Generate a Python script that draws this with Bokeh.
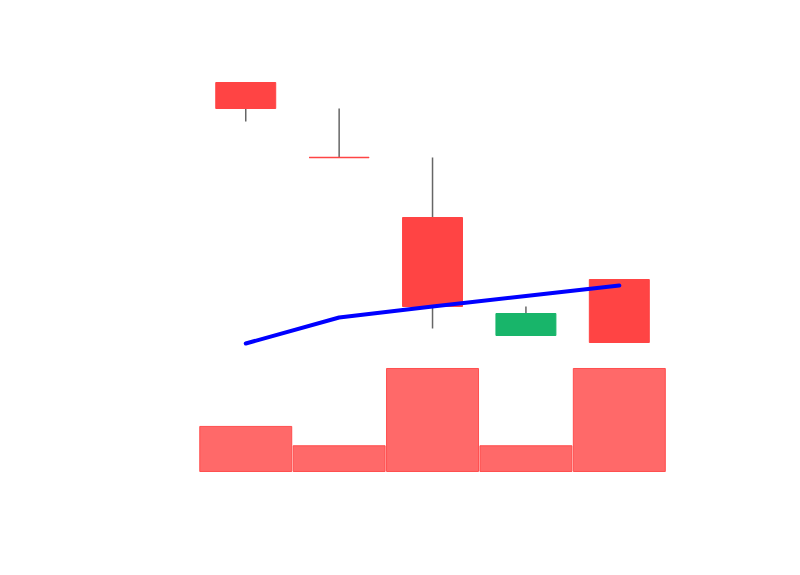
from bokeh.plotting import figure
from bokeh.models import Range1d
from bokeh.embed import file_html
from bokeh.resources import INLINE

# Data
days = ["Day 1", "Day 2", "Day 3", "Day 4", "Day 5"]
open_ = [41.8, 34.3, 28.3, 16.5, 22.1]
close = [39.2, 34.3, 19.4, 18.7, 15.8]
high = [41.8, 39.2, 34.3, 19.4, 22.1]
low = [37.9, 34.3, 17.2, 16.5, 15.8]
ma = [15.7, 18.3, 19.4, 20.45, 21.5]
volume = [350, 200, 800, 200, 800]

UP = "#18b56a"
DOWN = "#ff4444"
BODY_W = 0.642

x = list(range(len(days)))
colors = [UP if c > o else DOWN for o, c in zip(open_, close)]
tops = [max(o, c) for o, c in zip(open_, close)]
bottoms = [min(o, c) for o, c in zip(open_, close)]

p = figure(width=800, height=575, output_backend="svg", toolbar_location=None,
           x_range=Range1d(-2.626, 5.94), y_range=Range1d(-7.5, 50),
           x_axis_location=None, y_axis_location=None,
           min_border=0, min_border_left=0, min_border_right=0,
           min_border_top=0, min_border_bottom=0)
p.outline_line_color = None
p.xgrid.visible = False
p.ygrid.visible = False
p.background_fill_color = "white"
p.border_fill_color = "white"

p.extra_y_ranges = {"vol": Range1d(-807.8, 3658.3)}

# volume bars
p.vbar(x=x, top=volume, bottom=0, width=0.985, y_range_name="vol",
       fill_color=DOWN, fill_alpha=0.8, line_color=DOWN, line_alpha=0.9, line_width=1)

# wicks
p.segment(x0=x, y0=low, x1=x, y1=high, line_color="#666666", line_width=1.5)

# bodies
p.vbar(x=x, top=tops, bottom=bottoms, width=BODY_W,
       fill_color=colors, line_color=colors, line_width=1)

# doji bodies (open == close) drawn as a flat line
doji = [i for i in x if open_[i] == close[i]]
p.segment(x0=[i - BODY_W / 2 for i in doji], x1=[i + BODY_W / 2 for i in doji],
          y0=[open_[i] for i in doji], y1=[open_[i] for i in doji],
          line_color=[colors[i] for i in doji], line_width=1.5)

# moving average line
p.line(x=x, y=ma, line_color="#0000ff", line_width=4, line_cap="round", line_join="round")

open("out.html", "w").write(file_html(p, INLINE))
